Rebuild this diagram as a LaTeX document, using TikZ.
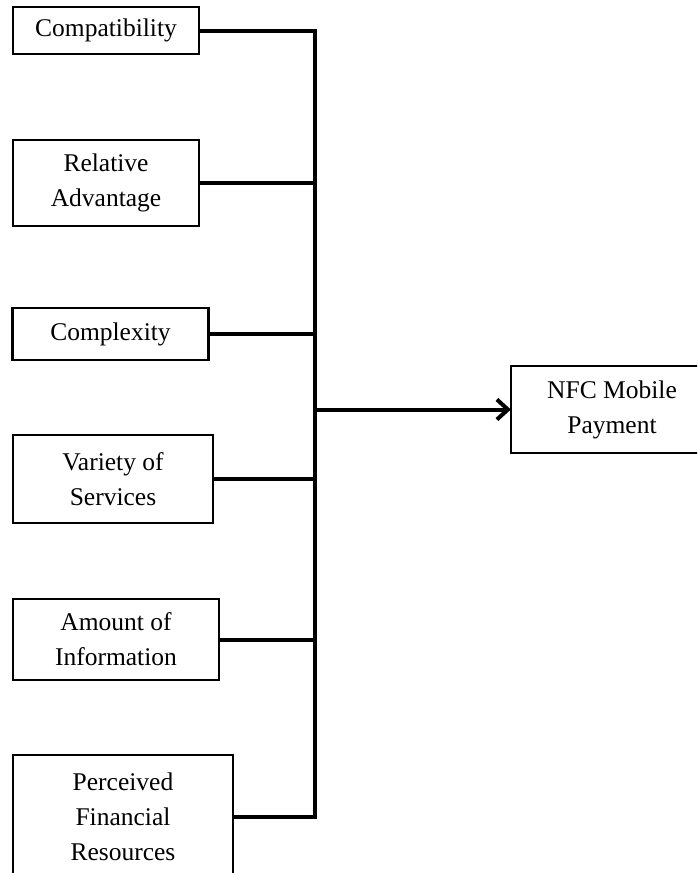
\documentclass[tikz,border=0pt]{standalone}
\usepackage{fontspec}
\setmainfont{Liberation Serif}
\usetikzlibrary{arrows.meta}
\begin{document}
\begin{tikzpicture}[x=1pt,y=-1pt,
  factor/.style={draw=black, line width=2.2pt, fill=white, align=center,
    inner sep=0pt, font=\fontsize{25.5}{35}\selectfont},
  frame/.style={draw=black, line width=2.2pt, line join=miter},
  link/.style={line width=4pt, line join=miter, line cap=butt},
  lead/.style={line width=4pt, -{Straight Barb[length=11pt,width=20pt,line width=4pt]}}]
  \useasboundingbox (0,0) rectangle (697,873);
  \clip (0,0) rectangle (697,873);

  % determinants on the left
  \node[factor, minimum width=186pt, minimum height=47pt] (c1) at (106,30.5) {Compatibility};
  \node[factor, minimum width=186pt, minimum height=86pt] (c2) at (106,183) {Relative\\Advantage};
  \node[factor, minimum width=196pt, minimum height=52pt] (c3) at (110.5,334) {Complexity};
  \node[factor, minimum width=200pt, minimum height=88pt] (c4) at (113,479) {Variety of\\Services};
  \node[factor, minimum width=206pt, minimum height=81pt] (c5) at (116,639.5) {Amount of\\Information};
  \node[factor, minimum width=220pt, minimum height=124pt] (c6) at (123,817) {Perceived\\Financial\\Resources};

  % outcome; its box runs on past the right edge
  \node[factor, draw=none, minimum width=200pt, minimum height=85pt] (nfc) at (612,409.5) {NFC Mobile\\Payment};
  \draw[frame] ([xshift=60pt]nfc.north east) -- (nfc.north west)
    -- (nfc.south west) -- ([xshift=60pt]nfc.south east);

  % collecting bus
  \coordinate (bx) at (315,0);
  \draw[link] (c1.east) -- (c1.east -| bx) -- (c6.east -| bx) -- (c6.east);
  \foreach \n in {c2,c3,c4,c5}
    \draw[link] (\n.east) -- (\n.east -| bx);

  % arrow to the outcome
  \draw[lead] (nfc.west -| bx) -- (nfc.west);
\end{tikzpicture}
\end{document}
